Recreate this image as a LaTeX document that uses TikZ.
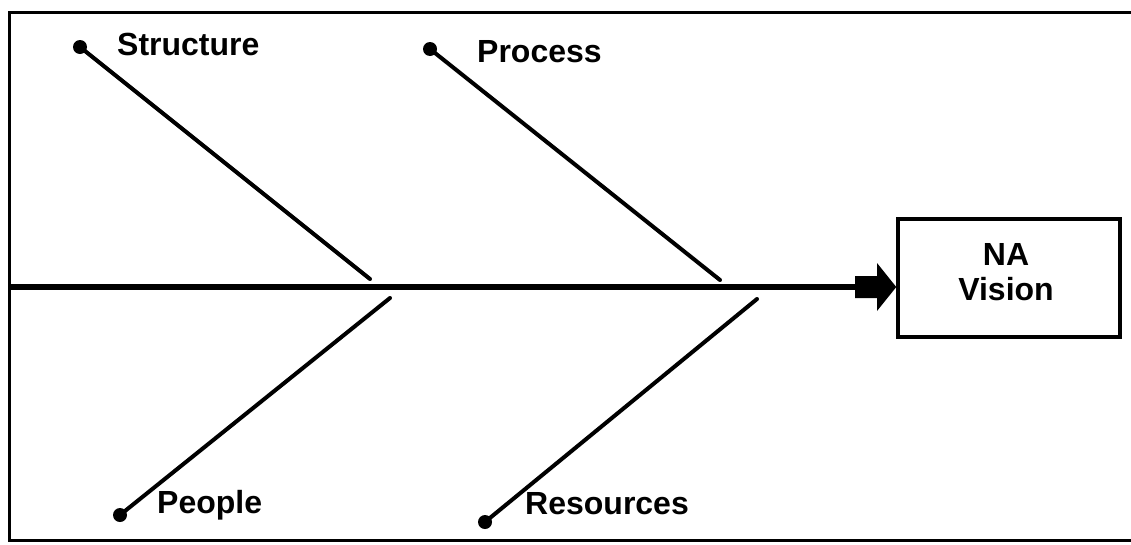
\documentclass[tikz,border=0pt]{standalone}
\usepackage{fontspec}
\setmainfont{Liberation Sans}
\begin{document}
\begin{tikzpicture}[x=1pt,y=-1pt,
  bone/.style={line width=4pt,line cap=round},
  dotnode/.style={circle,fill=black,inner sep=0pt,minimum size=14pt},
  lab/.style={font=\fontsize{32}{36}\selectfont\bfseries,anchor=base west,inner sep=0pt},
  frame/.style={line width=3pt}]
\useasboundingbox (0,0) rectangle (1131,544);
% outer frame
\draw[frame] (1140,12) -- (9,12) -- (9,540) -- (1140,540);
% effect box
\node[draw,line width=3.5pt,minimum width=222pt,minimum height=118pt,inner sep=0pt] (vision) at (1009,278) {};
\node[font=\fontsize{32}{35}\selectfont\bfseries,align=center,inner sep=0pt] (vtext) at (1006,272) {NA\\Vision};
% spine
\coordinate (tail) at (9,287);
\coordinate (shaftend) at (858,287);
\draw[line width=6pt] (tail) -- (shaftend);
% block arrowhead
\fill (855,276) -- (877,276) -- (877,263) -- (vision.west |- 0,287) -- (877,311) -- (877,298) -- (855,298) -- cycle;
% bones
\node[dotnode] (sdot) at (80,47) {};
\coordinate (send) at (370,279);
\draw[bone] (sdot.center) -- (send);
\node[lab] (slab) at (117,55) {Structure};
\node[dotnode] (pdot) at (430,49) {};
\coordinate (pend) at (720,280);
\draw[bone] (pdot.center) -- (pend);
\node[lab] (plab) at (477,62) {Process};
\node[dotnode] (ppdot) at (120,515) {};
\coordinate (ppend) at (390,298);
\draw[bone] (ppdot.center) -- (ppend);
\node[lab] (pplab) at (157,513) {People};
\node[dotnode] (rdot) at (485,522) {};
\coordinate (rend) at (757,299);
\draw[bone] (rdot.center) -- (rend);
\node[lab] (rlab) at (525,514) {Resources};
\end{tikzpicture}
\end{document}
